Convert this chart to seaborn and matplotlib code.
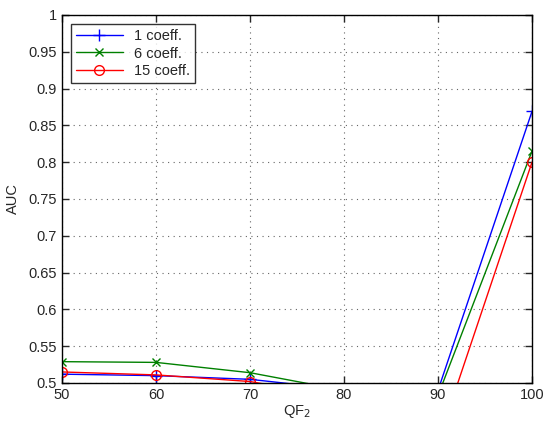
import matplotlib
matplotlib.use('Agg')
import matplotlib.pyplot as plt
import pandas as pd
import seaborn as sns

# valores
qf2 = [50, 60, 70, 80, 90, 100]
auc_1coeff = [0.512, 0.510, 0.505, 0.491, 0.490, 0.869]
auc_6coeff = [0.529, 0.528, 0.514, 0.490, 0.483, 0.815]
auc_15coeff = [0.515, 0.511, 0.502, 0.480, 0.420, 0.800]
series_names = ['1 coeff.', '6 coeff.', '15 coeff.']
y_ticks = [0.5, 0.55, 0.6, 0.65, 0.7, 0.75, 0.8, 0.85, 0.9, 0.95, 1.0]
y_tick_labels = ['0.5', '0.55', '0.6', '0.65', '0.7', '0.75', '0.8', '0.85', '0.9', '0.95', '1']


def build_data():
    rows = []
    for name, vals in zip(series_names, [auc_1coeff, auc_6coeff, auc_15coeff]):
        for x, y in zip(qf2, vals):
            rows.append({'QF2': x, 'AUC': y, 'serie': name})
    return pd.DataFrame(rows)


def create_plot(data):
    sns.set_style('ticks')
    plt.rcParams['font.family'] = ['Liberation Sans', 'DejaVu Sans']
    fig = plt.figure(figsize=(5.45, 4.24), dpi=100)
    ax = fig.add_axes([62 / 545, 1 - 383 / 424, 470 / 545, 368 / 424])
    cores = {'1 coeff.': '#0000ff', '6 coeff.': '#008000', '15 coeff.': '#ff0000'}
    marcadores = {'1 coeff.': '+', '6 coeff.': 'x', '15 coeff.': 'o'}
    tamanhos = {'1 coeff.': 9, '6 coeff.': 5.5, '15 coeff.': 7}
    for name in series_names:
        sub = data[data['serie'] == name]
        sns.lineplot(data=sub, x='QF2', y='AUC', ax=ax, color=cores[name],
                     marker=marcadores[name], markersize=tamanhos[name],
                     markerfacecolor='none', markeredgecolor=cores[name],
                     markeredgewidth=1.0, linewidth=1.0, label=name)
    ax.set_xlim(50, 100)
    ax.set_ylim(0.5, 1.0)
    ax.set_xticks(qf2)
    ax.set_yticks(y_ticks)
    ax.set_yticklabels(y_tick_labels)
    ax.grid(True, linestyle=(0, (1, 4)), color='#666666', linewidth=0.8)
    for s in ax.spines.values():
        s.set_visible(True)
        s.set_linewidth(1.0)
        s.set_color('black')
    ax.tick_params(direction='in', top=True, right=True, labelsize=10.5, length=5, width=1.0)
    ax.set_xlabel('QF$_2$', fontsize=10.5, labelpad=1)
    ax.set_ylabel('AUC', fontsize=10.5, labelpad=6)
    leg = ax.legend(loc='upper left', fontsize=10.5, frameon=True, fancybox=False,
                    edgecolor='black', borderaxespad=0.6, handlelength=3.2,
                    labelspacing=0.25, borderpad=0.35)
    leg.get_frame().set_linewidth(1.0)
    fig.savefig('out.png', dpi=100)


if __name__ == '__main__':
    data = build_data()
    create_plot(data)
